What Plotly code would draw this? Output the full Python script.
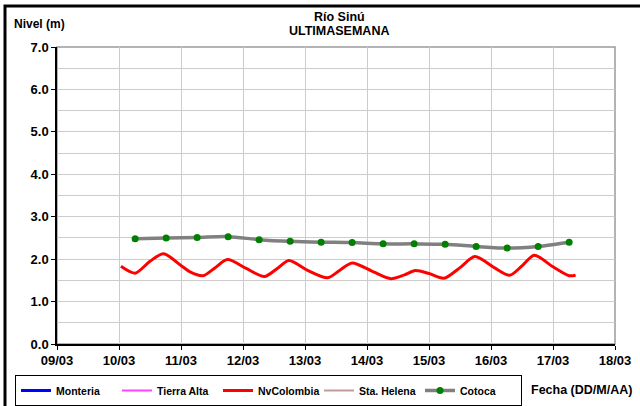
import plotly.graph_objects as go

# NvColombia water level (m)
nv_time = [
    "2013-03-10 00:45", "2013-03-10 06:15", "2013-03-10 12:00", "2013-03-10 17:15",
    "2013-03-11 00:00", "2013-03-11 03:30", "2013-03-11 08:30", "2013-03-11 13:15",
    "2013-03-11 18:00", "2013-03-12 01:15", "2013-03-12 08:15", "2013-03-12 13:15",
    "2013-03-12 17:45", "2013-03-13 01:15", "2013-03-13 08:45", "2013-03-13 13:30",
    "2013-03-13 18:15", "2013-03-14 02:30", "2013-03-14 09:15", "2013-03-14 14:30",
    "2013-03-14 18:45", "2013-03-15 00:00", "2013-03-15 05:45", "2013-03-15 12:00",
    "2013-03-15 17:45", "2013-03-16 01:15", "2013-03-16 07:15", "2013-03-16 12:00",
    "2013-03-16 16:45", "2013-03-17 00:00", "2013-03-17 06:15", "2013-03-17 08:45",
]
nv_level = [
    1.83, 1.67, 1.95, 2.13,
    1.85, 1.70, 1.61, 1.80,
    1.99, 1.78, 1.59, 1.78,
    1.97, 1.73, 1.56, 1.74,
    1.91, 1.70, 1.54, 1.63,
    1.73, 1.66, 1.55, 1.80,
    2.06, 1.80, 1.62, 1.84,
    2.09, 1.82, 1.61, 1.62,
]

# Cotoca water level (m), twice a day
cot_time = [
    "2013-03-10 06:15", "2013-03-10 18:15", "2013-03-11 06:15", "2013-03-11 18:15",
    "2013-03-12 06:15", "2013-03-12 18:15", "2013-03-13 06:15", "2013-03-13 18:15",
    "2013-03-14 06:15", "2013-03-14 18:15", "2013-03-15 06:15", "2013-03-15 18:15",
    "2013-03-16 06:15", "2013-03-16 18:15", "2013-03-17 06:15",
]
cot_level = [2.48, 2.50, 2.51, 2.53, 2.46, 2.42, 2.40, 2.39,
             2.36, 2.36, 2.35, 2.30, 2.26, 2.30, 2.40]

FONT = "Liberation Sans, Arial, sans-serif"

# plot area in pixels: x 57..615, y 47..344
L, R, T, B = 57, 615, 47, 344
W, H = 640, 406


def px(x):
    return (x - L) / (R - L)


def py(y):
    return (B - y) / (B - T)


fig = go.Figure()

fig.add_trace(go.Scatter(x=[None], y=[None], name="Monteria", mode="lines",
                         line=dict(color="#0000ff", width=3)))
fig.add_trace(go.Scatter(x=[None], y=[None], name="Tierra Alta", mode="lines",
                         line=dict(color="#ff44ff", width=2)))
fig.add_trace(go.Scatter(x=nv_time, y=nv_level, name="NvColombia", mode="lines",
                         line=dict(color="#ff0000", width=3, shape="spline", smoothing=0.8)))
fig.add_trace(go.Scatter(x=[None], y=[None], name="Sta. Helena", mode="lines",
                         line=dict(color="#c09c9c", width=2)))
fig.add_trace(go.Scatter(x=cot_time, y=cot_level, name="Cotoca", mode="lines+markers",
                         line=dict(color="#808080", width=3.5, shape="spline", smoothing=0.8),
                         marker=dict(color="#008000", size=7)))

fig.update_layout(
    width=W, height=H,
    margin=dict(l=L, r=W - R, t=T, b=H - B, autoexpand=False),
    paper_bgcolor="white", plot_bgcolor="white",
    font=dict(family=FONT, color="black", size=13, weight="bold"),
    showlegend=True,
    legend=dict(
        orientation="h", x=px(15), y=py(375), xanchor="left", yanchor="top",
        bordercolor="black", borderwidth=1, bgcolor="white",
        font=dict(size=10.5, weight="bold", family=FONT),
        entrywidth=56, tracegroupgap=0,
    ),
    xaxis=dict(
        type="date", range=["2013-03-09", "2013-03-18"],
        dtick=86400000, tick0="2013-03-09", tickformat="%d/%m",
        showgrid=True, gridcolor="#cccccc", gridwidth=1,
        showline=True, linecolor="black", linewidth=1.5,
        ticks="outside", ticklen=4, tickcolor="black",
        zeroline=False,
    ),
    yaxis=dict(
        range=[0, 7], dtick=1, tickformat=".1f",
        showgrid=True, gridcolor="#cccccc", gridwidth=1,
        minor=dict(dtick=0.5, showgrid=True, gridcolor="#cccccc", gridwidth=1),
        showline=True, linecolor="black", linewidth=1.5,
        ticks="outside", ticklen=4, tickcolor="black",
        zeroline=False,
    ),
    shapes=[
        dict(type="rect", xref="paper", yref="paper", x0=0, y0=0, x1=1, y1=1,
             line=dict(color="#9a9a9a", width=1.5), layer="below"),
        dict(type="rect", xref="paper", yref="paper",
             x0=px(5), y0=py(6), x1=px(700), y1=py(460),
             line=dict(color="black", width=3), layer="above"),
    ],
    annotations=[
        dict(text="Río Sinú", x=px(339), y=py(17), xref="paper", yref="paper",
             yanchor="middle", showarrow=False, font=dict(size=12.5)),
        dict(text="ULTIMASEMANA", x=px(339), y=py(31), xref="paper", yref="paper",
             yanchor="middle", showarrow=False, font=dict(size=12.5)),
        dict(text="Nivel (m)", x=px(12), y=py(24), xref="paper", yref="paper",
             xanchor="left", yanchor="middle", showarrow=False, font=dict(size=12)),
        dict(text="Fecha (DD/M/AA)", x=px(529), y=py(390), xref="paper", yref="paper",
             xanchor="left", yanchor="middle", showarrow=False, font=dict(size=12.5)),
    ],
)

fig.write_html("out.html", config={"displayModeBar": False},
               post_script="document.body.style.margin='0';")
